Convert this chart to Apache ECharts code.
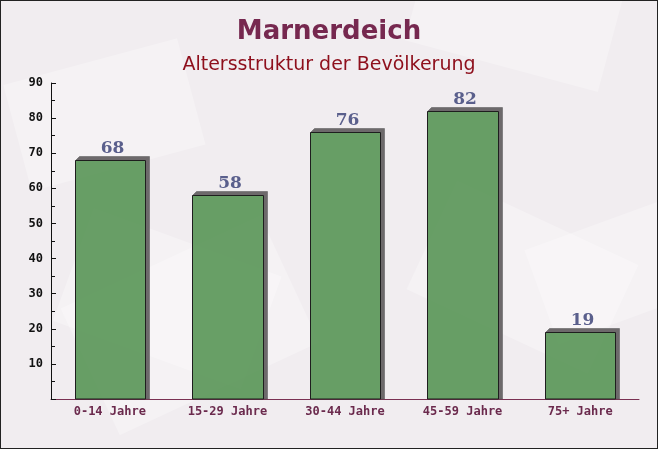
<!DOCTYPE html>
<html><head><meta charset="utf-8">
<script src="https://cdn.jsdelivr.net/npm/echarts@6/dist/echarts.min.js"></script>
<style>html,body{margin:0;padding:0;}#c{width:656px;height:447px;border:1px solid #222;}</style>
</head><body><div id="c"></div>
<script>
const categories = ['0-14 Jahre','15-29 Jahre','30-44 Jahre','45-59 Jahre','75+ Jahre'];
const values = [68, 58, 76, 82, 19];
const yMin = 0, yMax = 90, yStep = 10;

const chart = echarts.init(document.getElementById('c'));
const bgShapes = [
  [60,300,200,120,-20],[250,200,220,140,25],[470,120,200,130,-15],[520,330,180,110,30],[120,80,180,110,15],[330,380,200,120,-25],[600,60,160,100,20]
].map(s => ({type:'rect', x:s[0], y:s[1], rotation:s[4]*Math.PI/180, originX:s[0], originY:s[1], shape:{x:-s[2]/2,y:-s[3]/2,width:s[2],height:s[3]}, style:{fill:'rgba(255,255,255,0.28)'}, silent:true, z:-10}));

chart.setOption({
  backgroundColor:'#f1edf0',
  animation:false,
  graphic: bgShapes,
  title:[
    {text:'Marnerdeich', left:'center', top:13, textStyle:{fontFamily:'DejaVu Sans', fontWeight:'bold', fontSize:26, color:'#76284f'}},
    {text:'Altersstruktur der Bevölkerung', left:'center', top:50, textStyle:{fontFamily:'DejaVu Sans', fontWeight:'normal', fontSize:19, color:'#8e0f1c'}}
  ],
  grid:{left:50, right:18, top:82, bottom:49},
  xAxis:{type:'category', data:categories,
    axisLine:{lineStyle:{color:'#7a3052', width:1}},
    axisTick:{inside:true, length:5, lineStyle:{color:'#7a3052'}},
    axisLabel:{fontFamily:'DejaVu Sans Mono', fontWeight:'bold', fontSize:12, color:'#6b2a4d', margin:7},
    splitLine:{show:false}},
  yAxis:{type:'value', min:yMin, max:yMax, interval:yStep,
    axisLine:{show:true, lineStyle:{color:'#111'}},
    axisTick:{show:true, inside:true, length:5, lineStyle:{color:'#111'}},
    minorTick:{show:true, splitNumber:2, length:4, lineStyle:{color:'#111'}},
    axisLabel:{fontFamily:'DejaVu Sans Mono', fontWeight:'bold', fontSize:12, color:'#111', margin:8, showMinLabel:false},
    splitLine:{show:false}},
  series:[{
    type:'custom',
    data: values.map((v,i)=>[i,v]),
    renderItem:function(params, api){
      const base = api.coord([api.value(0), 0]);
      const top = api.coord([api.value(0), api.value(1)]);
      const w = api.size([1,0])[0]*0.6;
      const l = Math.round(top[0]-w/2)+0.5, r = Math.round(top[0]+w/2)+0.5;
      const t = Math.round(top[1])+0.5, b = base[1];
      const d = 4;
      return {type:'group', children:[
        {type:'polygon', shape:{points:[[l,t],[l+d,t-d],[r+d,t-d],[r+d,b],[r,b],[r,t]]}, style:{fill:'#6d696b', stroke:'#555', lineWidth:0.5}},
        {type:'rect', shape:{x:l, y:t, width:r-l, height:b-t}, style:{fill:'rgba(92,152,90,0.93)', stroke:'#1e1e1e', lineWidth:1}},
        {type:'text', style:{text:String(api.value(1)), x:(l+r)/2+2, y:t-3, align:'center', verticalAlign:'bottom', font:'bold 17px "DejaVu Serif"', fill:'#5a5f8c'}}
      ]};
    }
  }]
});
</script></body></html>
